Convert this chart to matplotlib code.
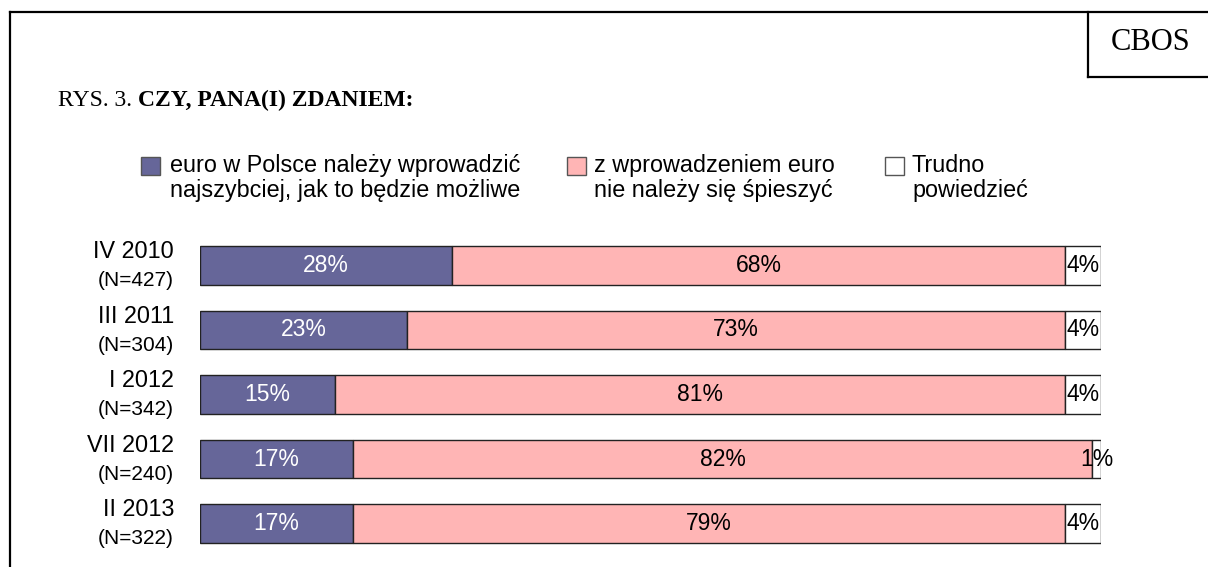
import matplotlib
matplotlib.use("Agg")
import matplotlib.pyplot as plt
from matplotlib.lines import Line2D
from matplotlib.patches import Rectangle

periods = ["IV 2010", "III 2011", "I 2012", "VII 2012", "II 2013"]
samples = ["(N=427)", "(N=304)", "(N=342)", "(N=240)", "(N=322)"]
fast = [28, 23, 15, 17, 17]
slow = [68, 73, 81, 82, 79]
hard = [4, 4, 4, 1, 4]
series_names = ["euro w Polsce należy wprowadzić\nnajszybciej, jak to będzie możliwe",
                "z wprowadzeniem euro\nnie należy się śpieszyć",
                "Trudno\npowiedzieć"]
colors = ["#666699", "#FFB5B5", "#FFFFFF"]
label_colors = ["white", "black", "black"]

W, H = 1208, 567
fig = plt.figure(figsize=(W / 100, H / 100), dpi=100)
fig.patch.set_facecolor("white")

def fx(px):
    return px / W

def fy(py):
    return 1 - py / H

sans = ["Liberation Sans", "DejaVu Sans"]
serif = ["Liberation Serif", "DejaVu Serif"]

# frame lines
fig.add_artist(Line2D([fx(10), fx(10)], [fy(12), fy(567)], color="black", lw=1.6, transform=fig.transFigure))
fig.add_artist(Line2D([fx(10), fx(1208)], [fy(12), fy(12)], color="black", lw=1.6, transform=fig.transFigure))
fig.add_artist(Line2D([fx(1088), fx(1088)], [fy(12), fy(77)], color="black", lw=1.6, transform=fig.transFigure))
fig.add_artist(Line2D([fx(1088), fx(1208)], [fy(77), fy(77)], color="black", lw=1.6, transform=fig.transFigure))
fig.text(fx(1151), fy(43), "CBOS", family=serif, fontsize=22, ha="center", va="center")

# title
t1 = fig.text(fx(58), fy(100), "RYS. 3. ", family=serif, fontsize=17, ha="left", va="center")
fig.canvas.draw()
bb = t1.get_window_extent(renderer=fig.canvas.get_renderer())
fig.text(bb.x1 / W, fy(100), "CZY, PANA(I) ZDANIEM:", family=serif, fontsize=17,
         fontweight="bold", ha="left", va="center")

# legend
leg_sq_x = [141, 567, 885]
leg_tx_x = [170, 594, 912]
for i in range(3):
    fig.add_artist(Rectangle((fx(leg_sq_x[i]), fy(175)), 19 / W, 18 / H, facecolor=colors[i],
                             edgecolor="#555555", lw=1.0, transform=fig.transFigure))
    fig.text(fx(leg_tx_x[i]), fy(178), series_names[i], family=sans, fontsize=16.8,
             ha="left", va="center", linespacing=1.12)

# bars
ax = fig.add_axes([fx(200), 11 / H, 901 / W, 323 / H])
n = len(periods)
ys = list(range(n))
lefts = [0] * n
for s, vals in enumerate([fast, slow, hard]):
    ax.barh(ys, vals, left=lefts, height=0.6, color=colors[s], edgecolor="#222222", lw=1.0)
    for i in range(n):
        cx = lefts[i] + vals[i] / 2
        ax.text(cx, ys[i], f"{vals[i]}%", ha="center", va="center", family=sans,
                fontsize=16.5, color=label_colors[s])
    lefts = [lefts[i] + vals[i] for i in range(n)]

ax.set_xlim(0, 100)
ax.set_ylim(n - 0.5, -0.5)
ax.axis("off")

for i in range(n):
    ax.annotate(periods[i], xy=(0, ys[i]), xycoords="data", xytext=(-18.7, 10),
                textcoords="offset points", ha="right", va="center", family=sans, fontsize=16.8)
    ax.annotate(samples[i], xy=(0, ys[i]), xycoords="data", xytext=(-18.7, -11),
                textcoords="offset points", ha="right", va="center", family=sans, fontsize=15)

fig.savefig("out.png", dpi=100, facecolor="white")
